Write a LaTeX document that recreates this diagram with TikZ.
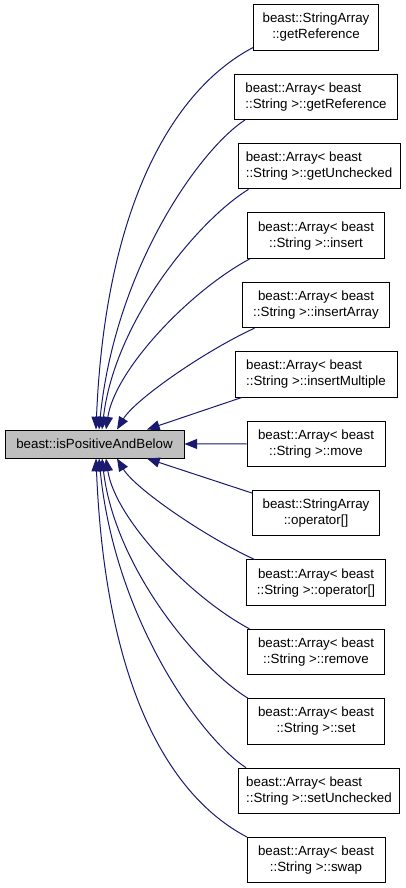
\documentclass[tikz,border=0pt]{standalone}
\usepackage{fontspec}
\setmainfont{Liberation Sans}
\usetikzlibrary{arrows.meta,calc}
\definecolor{callblue}{HTML}{191970}
\definecolor{pivotgray}{HTML}{BFBFBF}

\begin{document}
\begin{tikzpicture}[
  x=0.75pt, y=-0.75pt,
  member/.style={rectangle, draw=black, line width=0.75pt, fill=white, minimum width=#1*0.75pt, minimum height=34pt, inner xsep=2pt, inner ysep=1pt, align=center, font=\fontsize{10}{12}\selectfont},
  pivot/.style={rectangle, draw=black, line width=0.75pt, fill=pivotgray, minimum width=179*0.75pt, minimum height=21pt, font=\fontsize{10}{12}\selectfont},
  callarrow/.style={-{Triangle[length=9.5pt,width=7.5pt]}, line width=0.75pt, draw=callblue}
]
  \useasboundingbox (0,0) rectangle (405,888);

  \node[pivot] (pivot) at (94.5,444) {beast::isPositiveAndBelow};

  \node[member=125] (getref) at (316,27.4) {beast::StringArray\\::getReference};
  \node[member=163, align=left] (agetref) at (316,96.8) {beast::Array< beast\\::String >::getReference};
  \node[member=162, align=left] (getunch) at (319,166.2) {beast::Array< beast\\::String >::getUnchecked};
  \node[member=137] (insert) at (316,235.6) {beast::Array< beast\\::String >::insert};
  \node[member=147] (insarr) at (316,305) {beast::Array< beast\\::String >::insertArray};
  \node[member=162, align=left] (insmult) at (316,374.4) {beast::Array< beast\\::String >::insertMultiple};
  \node[member=138] (move) at (316,443.8) {beast::Array< beast\\::String >::move};
  \node[member=127] (opidx) at (316,513.2) {beast::StringArray\\::operator[]};
  \node[member=139] (aopidx) at (316,582.6) {beast::Array< beast\\::String >::operator[]};
  \node[member=137] (remove) at (316,652) {beast::Array< beast\\::String >::remove};
  \node[member=137] (set) at (316,721.4) {beast::Array< beast\\::String >::set};
  \node[member=161, align=left] (setunch) at (319,790.8) {beast::Array< beast\\::String >::setUnchecked};
  \node[member=138] (swap) at (316,860.2) {beast::Array< beast\\::String >::swap};

  % callers above
  \draw[callarrow] ($(getref.south west)+(0,-3)$) .. controls +(-82,43) and +(9,-220) .. ($(pivot.north)+(1.5,0)$);
  \draw[callarrow] ($(agetref.south west)+(11,0)$) .. controls +(-46,30) and +(16,-160) .. ($(pivot.north)+(4.5,0)$);
  \draw[callarrow] ($(getunch.south west)+(11,0)$) .. controls +(-49,30) and +(13,-110) .. ($(pivot.north)+(7.5,0)$);
  \draw[callarrow] ($(insert.south west)+(3,0)$) .. controls +(-60,32) and +(9,-60) .. ($(pivot.north)+(11.5,0)$);
  \draw[callarrow] ($(insarr.south west)+(12.5,0)$) .. controls +(-50,23) and +(18,-30) .. ($(pivot.north)+(22.5,0)$);
  \draw[callarrow] ($(insmult.south west)+(7,0)$) -- ($(pivot.north)+(52.5,0)$);
  \draw[callarrow] (move.west) -- (pivot.east);
  % callers below
  \draw[callarrow] ($(opidx.north west)+(0,3)$) -- ($(pivot.south)+(52.5,0)$);
  \draw[callarrow] ($(aopidx.north west)+(8.5,0)$) .. controls +(-50,-23) and +(18,30) .. ($(pivot.south)+(22.5,0)$);
  \draw[callarrow] ($(remove.north west)+(2.5,0)$) .. controls +(-60,-32) and +(9,60) .. ($(pivot.south)+(11.5,0)$);
  \draw[callarrow] ($(set.north west)+(1,0)$) .. controls +(-49,-30) and +(13,110) .. ($(pivot.south)+(7.5,0)$);
  \draw[callarrow] ($(setunch.north west)+(8,0)$) .. controls +(-46,-30) and +(16,160) .. ($(pivot.south)+(4.5,0)$);
  \draw[callarrow] ($(swap.north west)+(0.5,0)$) .. controls +(-82,-43) and +(9,220) .. ($(pivot.south)+(1.5,0)$);
\end{tikzpicture}
\end{document}
